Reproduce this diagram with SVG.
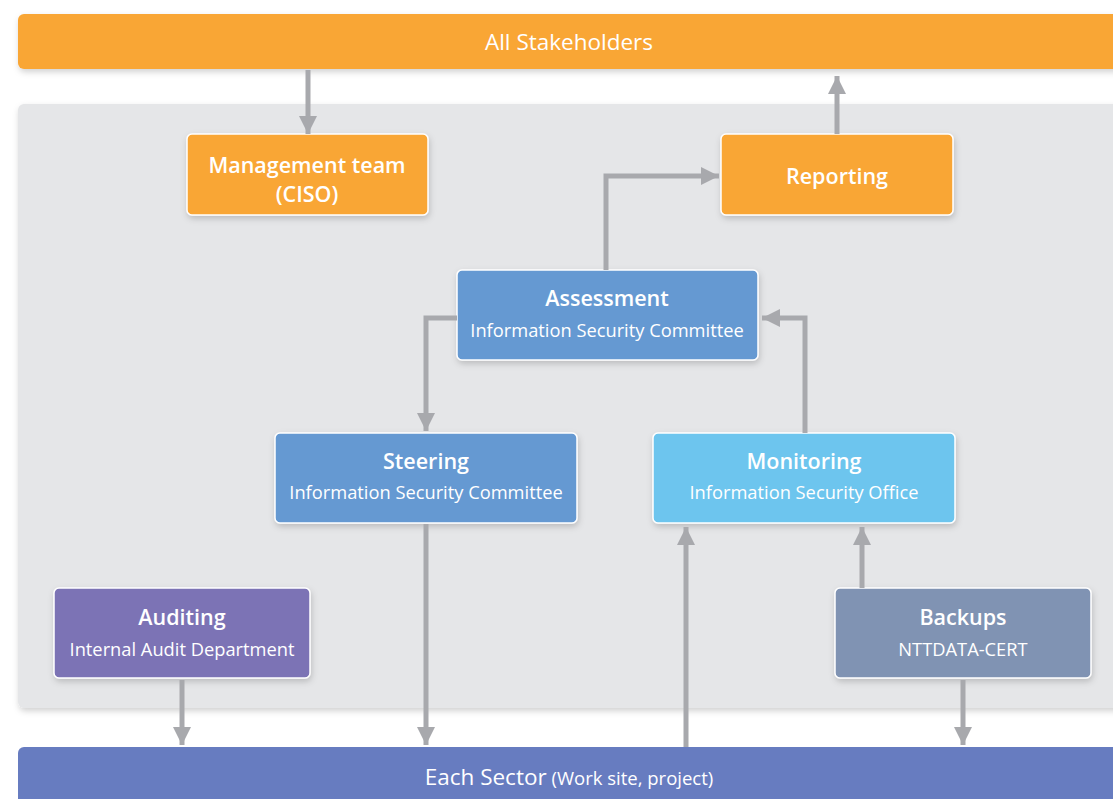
<svg xmlns="http://www.w3.org/2000/svg" width="1113" height="799" viewBox="0 0 1113 799">
<defs>
<filter id="sh" x="-10%" y="-10%" width="120%" height="130%">
<feDropShadow dx="1" dy="3" stdDeviation="3" flood-color="#000" flood-opacity="0.18"/>
</filter>
<marker id="ah" viewBox="0 0 10 10" refX="10" refY="5" markerWidth="3.6" markerHeight="3.6" markerUnits="strokeWidth" orient="auto">
<path d="M0,0 L10,5 L0,10 Z" fill="#A8A9AD"/>
</marker>
<style>
.box{stroke:#fff;stroke-width:1.5;filter:url(#sh)}
.t{font-family:"Open Sans","Noto Sans","Liberation Sans",sans-serif;fill:#fff;text-anchor:middle}
.h{font-size:21.5px;font-weight:600}
.s{font-size:18.3px}
.c{fill:none;stroke:#A8A9AD;stroke-width:5;marker-end:url(#ah)}
</style>
</defs>
<rect width="1113" height="799" fill="#fff"/>
<g id="panel">
<rect x="18" y="104" width="1110" height="604" rx="6" fill="#E5E6E8" filter="url(#sh)"/>
</g>
<g id="stakeholders">
<rect x="18" y="14" width="1110" height="55" rx="6" fill="#F9A634" filter="url(#sh)"/>
<text class="t" x="569" y="50" font-size="22.5" font-weight="500">All Stakeholders</text>
</g>
<g id="sector">
<rect x="18" y="747" width="1110" height="70" rx="6" fill="#677CC0"/>
<text class="t" x="569" y="785"><tspan font-size="22.5" font-weight="500">Each Sector</tspan><tspan font-size="18.5"> (Work site, project)</tspan></text>
</g>
<g id="management">
<rect class="box" x="187" y="134" width="241" height="81" rx="5" fill="#F9A634"/>
<text class="t h" x="307" y="173">Management team</text>
<text class="t h" x="307" y="202">(CISO)</text>
</g>
<g id="reporting">
<rect class="box" x="721" y="134" width="232" height="81" rx="5" fill="#F9A634"/>
<text class="t h" x="837" y="184">Reporting</text>
</g>
<g id="assessment">
<rect class="box" x="457" y="270" width="301" height="90" rx="5" fill="#6599D2"/>
<text class="t h" x="607" y="306">Assessment</text>
<text class="t s" x="607" y="337">Information Security Committee</text>
</g>
<g id="steering">
<rect class="box" x="275" y="433" width="302" height="90" rx="5" fill="#6599D2"/>
<text class="t h" x="426" y="469">Steering</text>
<text class="t s" x="426" y="499">Information Security Committee</text>
</g>
<g id="monitoring">
<rect class="box" x="653" y="433" width="302" height="90" rx="5" fill="#6DC5EE"/>
<text class="t h" x="804" y="469">Monitoring</text>
<text class="t s" x="804" y="499">Information Security Office</text>
</g>
<g id="auditing">
<rect class="box" x="54" y="588" width="256" height="90" rx="5" fill="#7B73B5"/>
<text class="t h" x="182" y="625">Auditing</text>
<text class="t s" x="182" y="656">Internal Audit Department</text>
</g>
<g id="backups">
<rect class="box" x="835" y="588" width="256" height="90" rx="5" fill="#8093B3"/>
<text class="t h" x="963" y="625">Backups</text>
<text class="t s" x="963" y="656">NTTDATA-CERT</text>
</g>
<g id="connectors">
<path class="c" d="M308,70 V134"/>
<path class="c" d="M837,134 V76"/>
<path class="c" d="M606,270 V176 H719"/>
<path class="c" d="M457,318 H426 V431"/>
<path class="c" d="M805,433 V318 H762"/>
<path class="c" d="M182,680 V745"/>
<path class="c" d="M426,524 V745"/>
<path class="c" d="M686,747 V527"/>
<path class="c" d="M862,588 V527"/>
<path class="c" d="M963,680 V745"/>
</g>
</svg>
